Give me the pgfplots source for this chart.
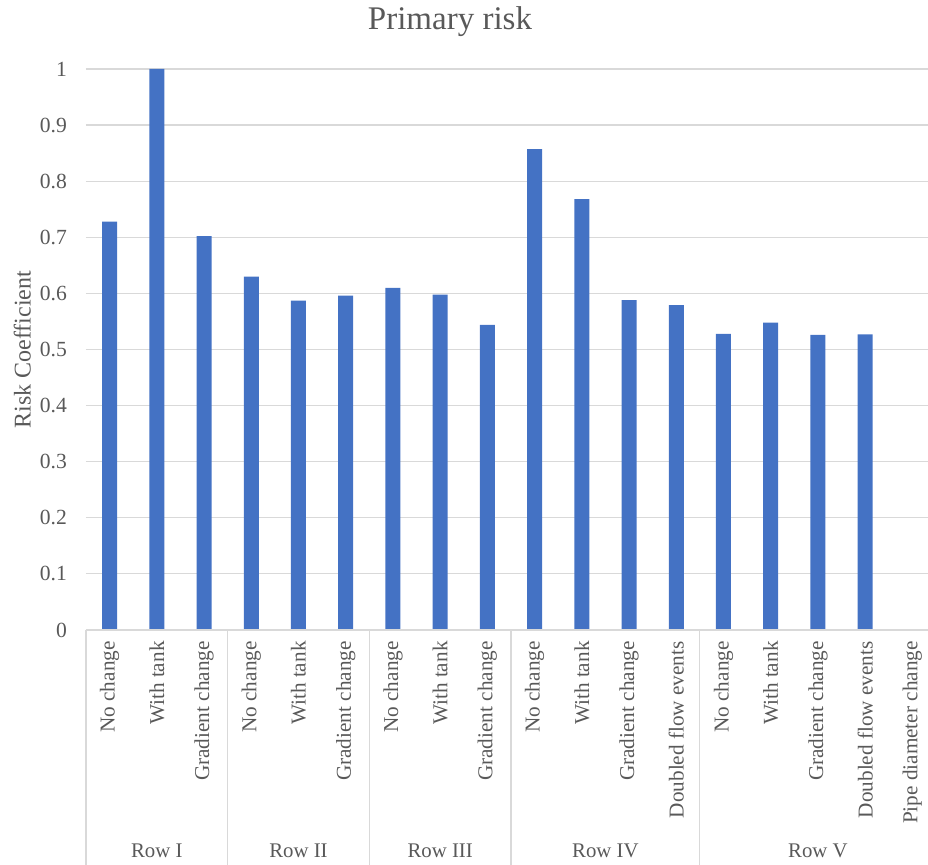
\documentclass[border=0pt]{standalone}
\usepackage{fontspec}
\setmainfont{Liberation Serif}
\usepackage{pgfplots}
\pgfplotsset{compat=1.18}
\definecolor{barblue}{HTML}{4472C4}
\definecolor{txtgray}{HTML}{595959}
\definecolor{gridgray}{HTML}{D9D9D9}

\begin{document}
\begin{tikzpicture}
\useasboundingbox (0,0) rectangle (464pt,432.5pt);
\node[font=\fontsize{16.5}{19}\selectfont, text=txtgray] at (225pt,421.5pt) {Primary risk};
\begin{axis}[
    at={(43pt,117.5pt)}, anchor=south west,
    scale only axis, width=425pt, height=280.5pt,
    xmin=-0.5, xmax=17.5, ymin=0, ymax=1,
    ybar, bar width=7.5pt,
    axis line style={draw=none},
    major tick length=0pt,
    ytick={0,0.1,...,1},
    ymajorgrids, grid style={gridgray, line width=0.6pt},
    xtick={0,...,17},
    xticklabels={No change, With tank, Gradient change,
        No change, With tank, Gradient change,
        No change, With tank, Gradient change,
        No change, With tank, Gradient change, Doubled flow events,
        No change, With tank, Gradient change, Doubled flow events, Pipe diameter change},
    xticklabel style={rotate=90, anchor=east, inner xsep=5.5pt, inner ysep=0pt,
        font=\fontsize{10.6}{12}\selectfont, text=txtgray},
    yticklabel style={font=\fontsize{10.8}{12}\selectfont, text=txtgray, xshift=-6pt},
    /pgf/number format/assume math mode=true,
    ylabel={Risk Coefficient},
    ylabel style={at={(axis description cs:-0.075,0.5)}, anchor=center,
        font=\fontsize{12}{14}\selectfont, text=txtgray},
    clip=false,
]
\addplot[fill=barblue, draw=none, bar shift=0pt] coordinates {
    (0,0.728) (1,1.0) (2,0.702)
    (3,0.630) (4,0.587) (5,0.596)
    (6,0.610) (7,0.598) (8,0.544)
    (9,0.857) (10,0.768) (11,0.588) (12,0.579)
    (13,0.528) (14,0.548) (15,0.526) (16,0.527)
};
\draw[gridgray, line width=0.6pt] (axis cs:-0.5,0) -- (axis cs:17.5,0);
\draw[gridgray, line width=0.6pt] (axis cs:-0.5,0) -- (axis cs:-0.5,-0.45);
\draw[gridgray, line width=0.6pt] (axis cs:2.5,0) -- (axis cs:2.5,-0.45);
\draw[gridgray, line width=0.6pt] (axis cs:5.5,0) -- (axis cs:5.5,-0.45);
\draw[gridgray, line width=0.6pt] (axis cs:8.5,0) -- (axis cs:8.5,-0.45);
\draw[gridgray, line width=0.6pt] (axis cs:12.5,0) -- (axis cs:12.5,-0.45);
\draw[gridgray, line width=0.6pt] (axis cs:17.5,0) -- (axis cs:17.5,-0.45);
\node[font=\fontsize{10.4}{12}\selectfont, text=txtgray] at (axis cs:1,-0.394) {Row I};
\node[font=\fontsize{10.4}{12}\selectfont, text=txtgray] at (axis cs:4,-0.394) {Row II};
\node[font=\fontsize{10.4}{12}\selectfont, text=txtgray] at (axis cs:7,-0.394) {Row III};
\node[font=\fontsize{10.4}{12}\selectfont, text=txtgray] at (axis cs:10.5,-0.394) {Row IV};
\node[font=\fontsize{10.4}{12}\selectfont, text=txtgray] at (axis cs:15,-0.394) {Row V};
\end{axis}
\end{tikzpicture}
\end{document}
